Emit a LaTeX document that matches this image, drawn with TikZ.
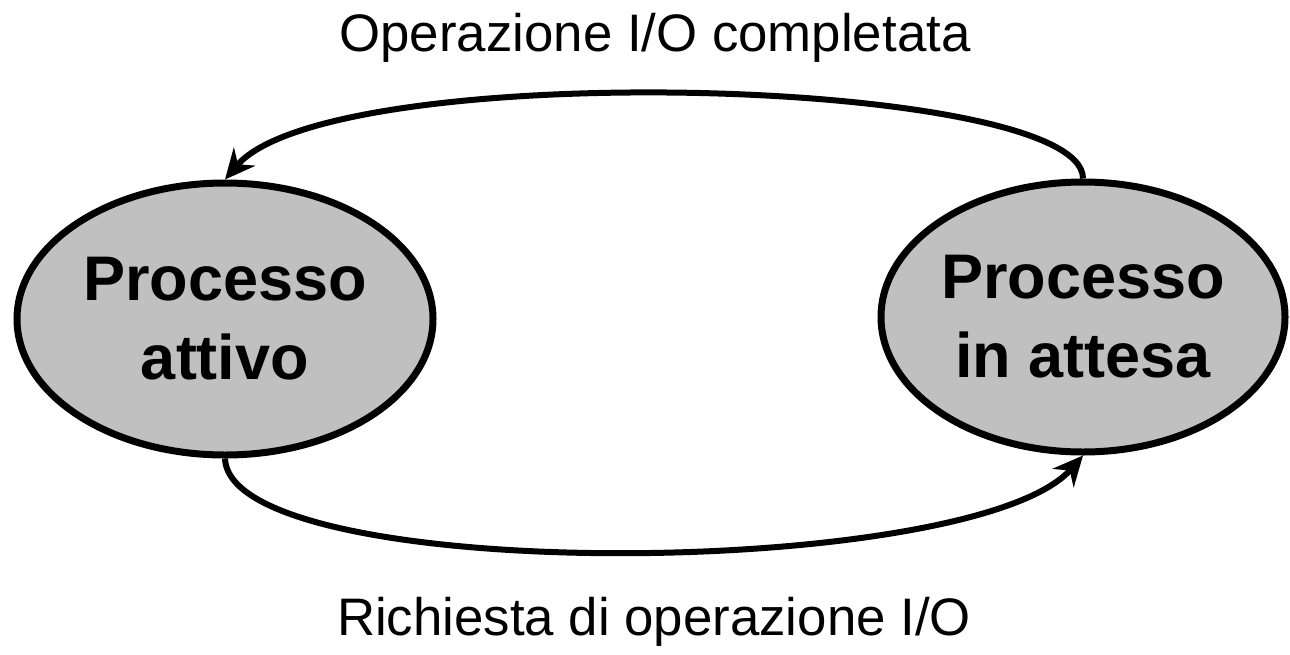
\documentclass[tikz,border=0pt]{standalone}
\usepackage{fontspec}
\setmainfont{Liberation Sans}
\usetikzlibrary{shapes.geometric,arrows.meta}
\definecolor{grigio}{RGB}{192,192,192}
\begin{document}
\begin{tikzpicture}[x=0.5pt,y=0.5pt,
    stato/.style={ellipse,draw,line width=3.5pt,fill=grigio,inner sep=0pt,
      align=center,font=\fontsize{31.5}{39.5}\selectfont\bfseries},
    freccia/.style={line width=3pt,-{Stealth[length=15pt,width=14pt,inset=5pt]}},
    etichetta/.style={anchor=base,font=\fontsize{26.4}{32}\selectfont}]
  \useasboundingbox (0,0) rectangle (1290,-654);
  \node[stato,minimum width=208pt,minimum height=136pt] (attivo) at (225,-319)
  {Processo\\attivo};
  \node[stato,minimum width=202pt,minimum height=135pt] (attesa) at (1083,-317)
  {Processo\\in attesa};

  \node[etichetta] (completata) at (655,-51) {Operazione I/O completata};
  \node[etichetta] (richiesta) at (654,-635) {Richiesta di operazione I/O};

  \draw[freccia] (attesa.north) .. controls +(0,102) and +(105,123) .. (attivo.north);
  \draw[freccia] (attivo.south) .. controls +(5,-127) and +(-110,-125) .. (attesa.south);
\end{tikzpicture}
\end{document}
